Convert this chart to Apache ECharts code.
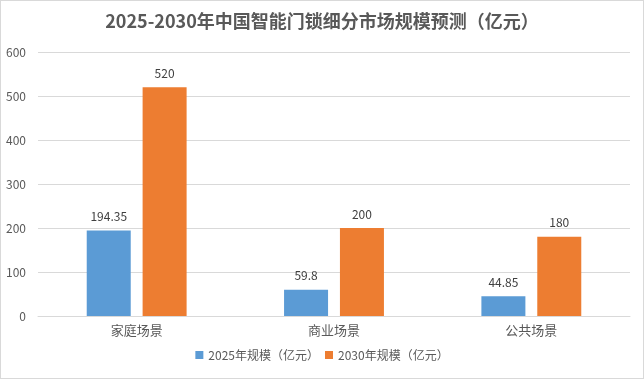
<!DOCTYPE html>
<html><head><meta charset="utf-8">
<script src="https://cdn.jsdelivr.net/npm/echarts@6/dist/echarts.min.js"></script>
<style>html,body{margin:0;padding:0;background:#fff}#c{width:644px;height:379px;box-sizing:border-box;border:1px solid #d9d9d9}</style>
</head><body><div id="c"></div>
<script>
const categories = ['家庭场景', '商业场景', '公共场景'];
const series2025 = [194.35, 59.8, 44.85];
const series2030 = [520, 200, 180];
const seriesNames = ['2025年规模（亿元）', '2030年规模（亿元）'];
const titleText = '2025-2030年中国智能门锁细分市场规模预测（亿元）';

const chart = echarts.init(document.getElementById('c'));
const font = '"Noto Sans CJK SC", "Noto Sans", sans-serif';
chart.setOption({
  animation: false,
  title: { text: titleText, left: 'center', top: 6,
    textStyle: { fontFamily: font, fontSize: 18, fontWeight: 'bold', color: '#595959' } },
  legend: { bottom: 12, left: 'center', itemWidth: 8, itemHeight: 8, itemGap: 6, icon: 'rect',
    textStyle: { fontFamily: font, fontSize: 12, color: '#595959' } },
  grid: { left: 37, right: 13, top: 51, bottom: 62 },
  xAxis: { type: 'category', data: categories,
    axisLine: { lineStyle: { color: '#d9d9d9' } }, axisTick: { show: false },
    axisLabel: { fontFamily: font, fontSize: 13, color: '#595959', margin: 8 } },
  yAxis: { type: 'value', min: 0, max: 600, interval: 100,
    axisLine: { show: false }, axisTick: { show: false },
    splitLine: { lineStyle: { color: '#d9d9d9' } },
    axisLabel: { fontFamily: font, fontSize: 12, color: '#595959', margin: 12 } },
  series: [
    { name: seriesNames[0], type: 'bar', data: series2025, barWidth: 44, barGap: '27%',
      itemStyle: { color: '#5B9BD5' },
      label: { show: true, position: 'top', distance: 8, fontFamily: font, fontSize: 12, color: '#404040' } },
    { name: seriesNames[1], type: 'bar', data: series2030, barWidth: 44,
      itemStyle: { color: '#ED7D31' },
      label: { show: true, position: 'top', distance: 8, fontFamily: font, fontSize: 12, color: '#404040' } }
  ]
});
</script></body></html>
